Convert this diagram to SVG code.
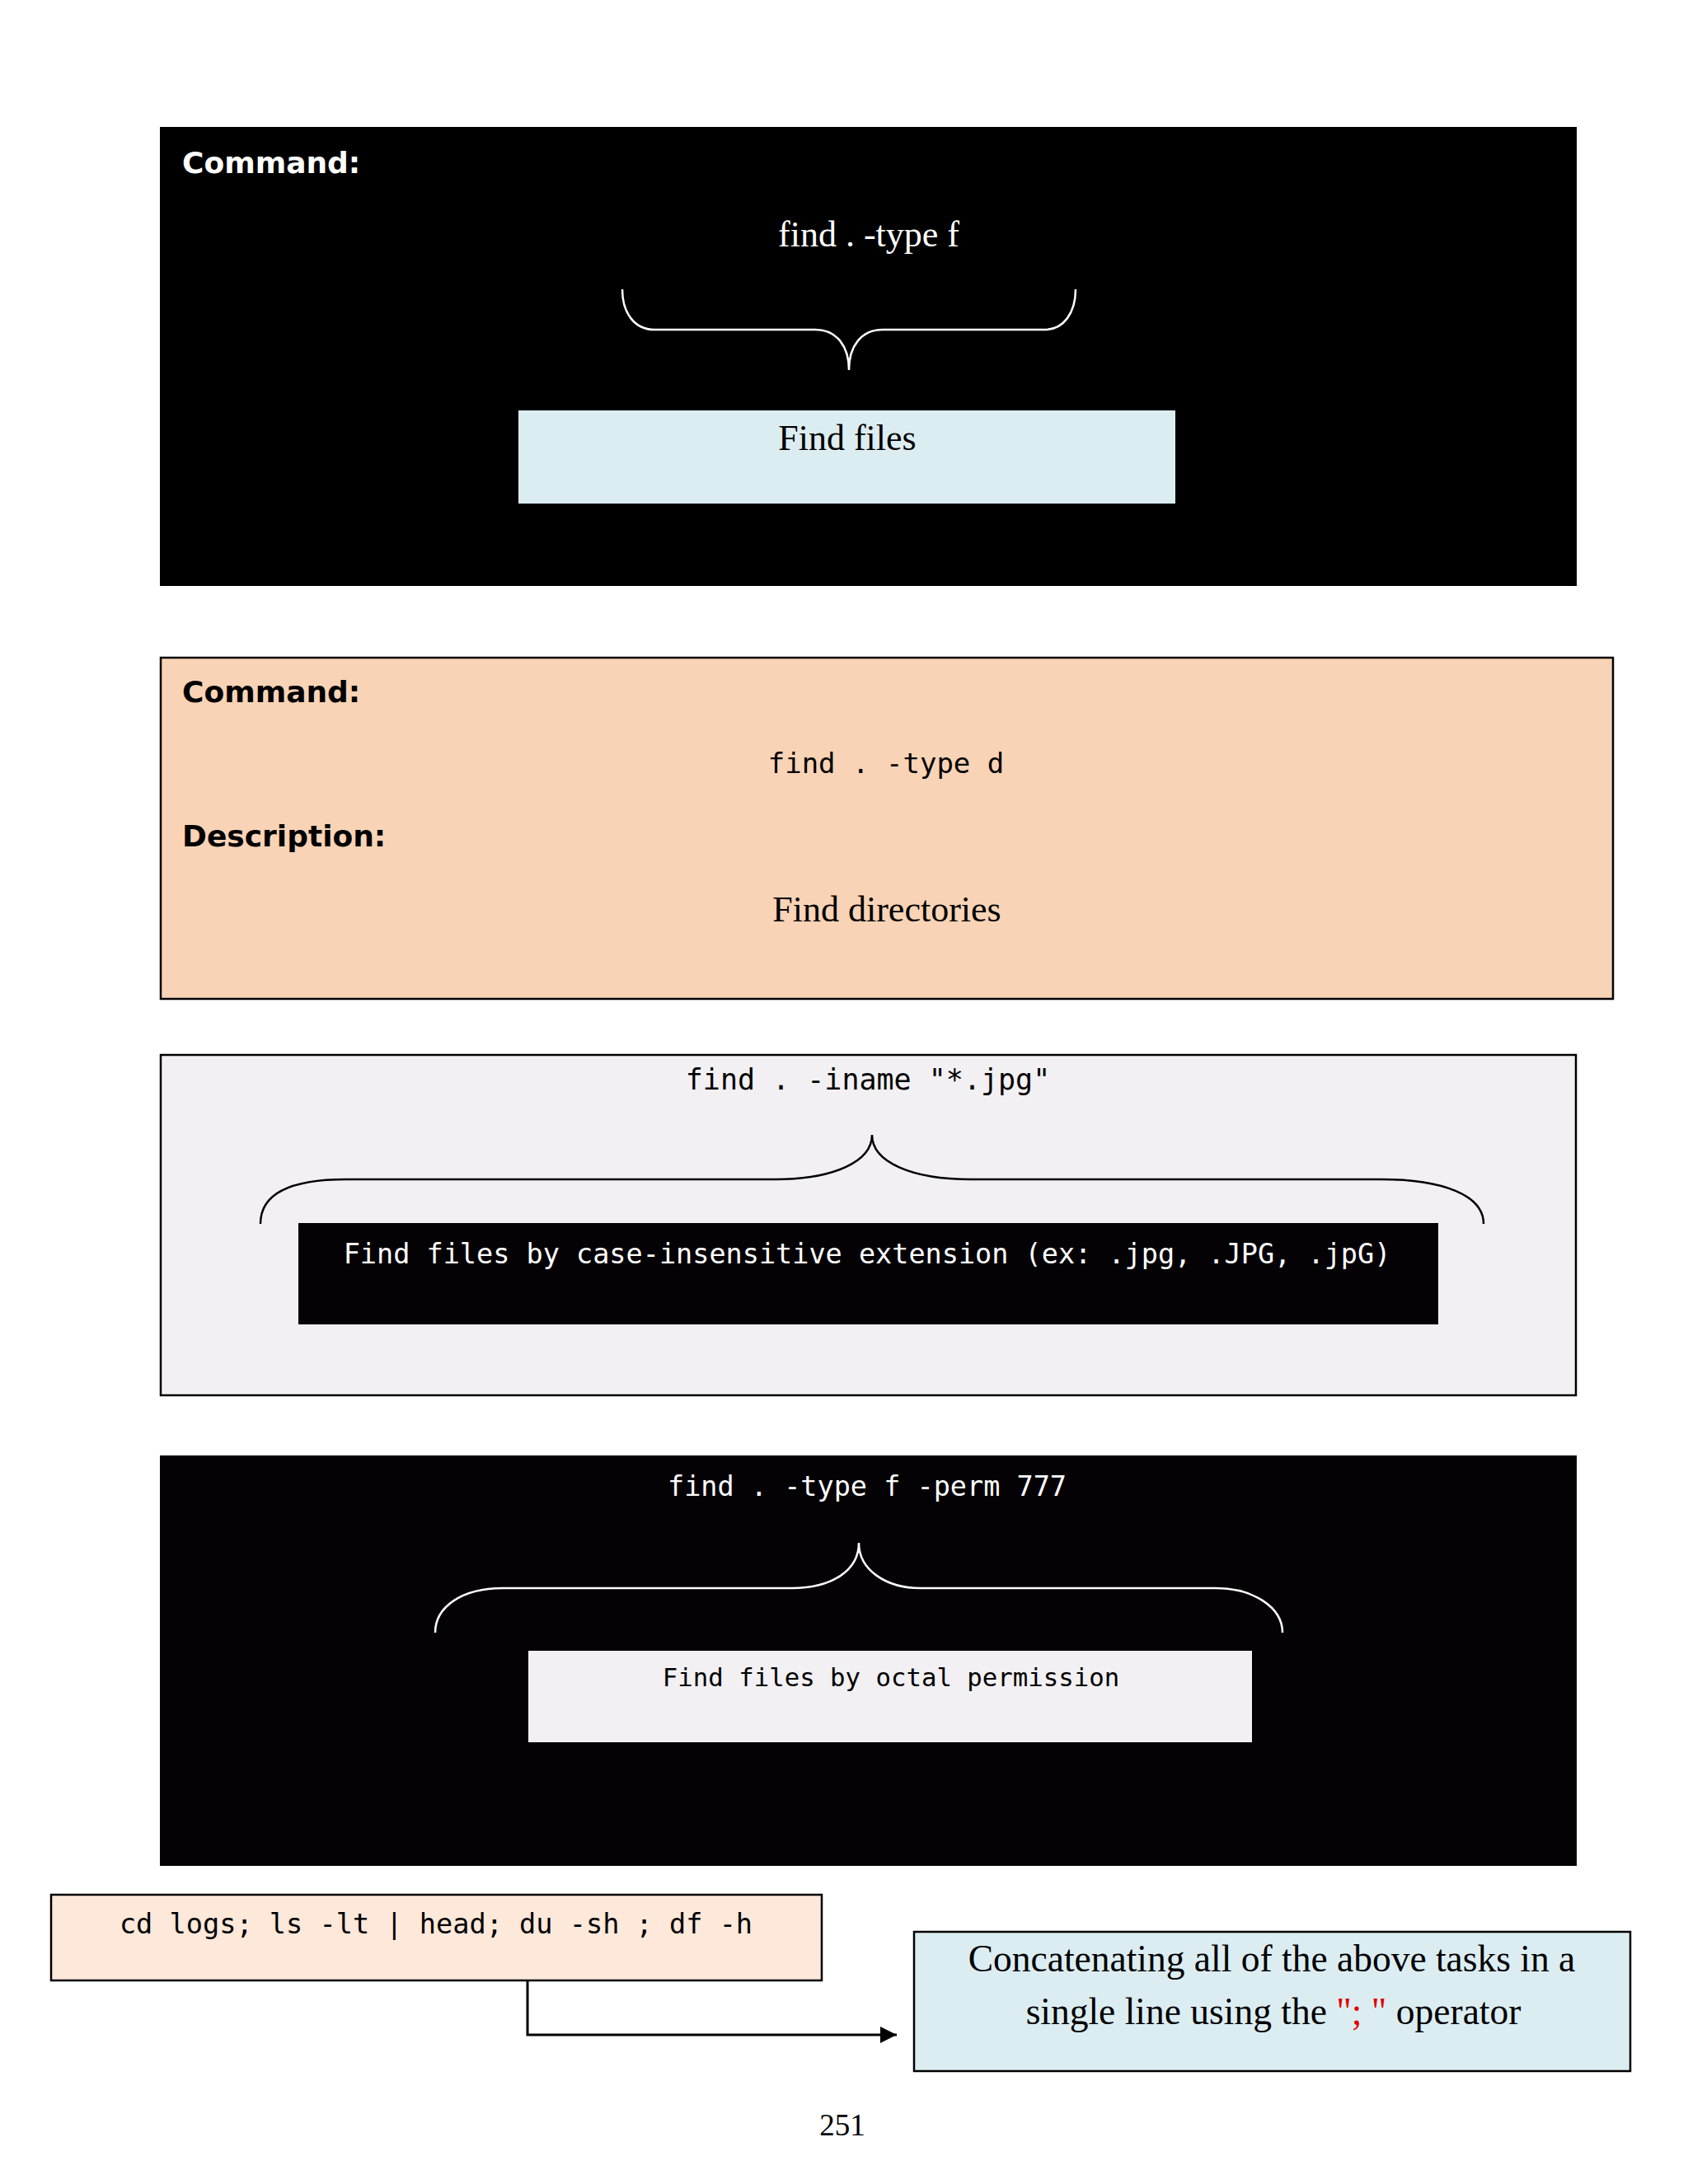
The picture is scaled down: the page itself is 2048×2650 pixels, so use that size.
<svg xmlns="http://www.w3.org/2000/svg" width="2048" height="2650" viewBox="0 0 2048 2650">
  <style>
    .hdr { font-family: "DejaVu Sans", "Liberation Sans", sans-serif; font-weight: bold; font-size: 36px; }
    .serif { font-family: "Liberation Serif", "Times New Roman", serif; font-size: 44px; }
    .big { font-size: 45.5px; }
    .mono { font-family: "DejaVu Sans Mono", "Liberation Mono", monospace; }
    .brace { fill: none; stroke-width: 2.5; }
  </style>
  <defs>
    <marker id="arrow" markerWidth="20" markerHeight="20" refX="20" refY="10" orient="auto" markerUnits="userSpaceOnUse">
      <path d="M0,0 L20,10 L0,20 Z" fill="#000"/>
    </marker>
  </defs>
  <rect x="0" y="0" width="2048" height="2650" fill="#ffffff"/>

  <g id="panel1">
    <rect x="194" y="154" width="1719" height="557" fill="#000000"/>
    <text class="hdr" x="221" y="210" fill="#ffffff">Command:</text>
    <text class="serif" x="1054" y="299" fill="#ffffff" text-anchor="middle">find . -type f</text>
    <path class="brace" stroke="#ffffff" d="M755,351 C755,380 770,400 794,400 L989,400 C1015,400 1030,420 1030,449 C1030,420 1045,400 1071,400 L1268,400 C1290,400 1305,380 1305,351"/>
    <g id="find-files">
      <rect x="629" y="498" width="797" height="113" fill="#dcedf2"/>
      <text class="serif" x="1028" y="546" fill="#000000" text-anchor="middle">Find files</text>
    </g>
  </g>

  <g id="panel2">
    <rect x="195" y="798" width="1762" height="414" fill="#f9d3b5" stroke="#000000" stroke-width="2.5"/>
    <text class="hdr" x="221" y="852" fill="#000000">Command:</text>
    <text class="mono" x="1075" y="938" font-size="34" fill="#000000" text-anchor="middle">find . -type d</text>
    <text class="hdr" x="221" y="1027" fill="#000000">Description:</text>
    <text class="serif" x="1076" y="1118" fill="#000000" text-anchor="middle">Find directories</text>
  </g>

  <g id="panel3">
    <rect x="195" y="1280" width="1717" height="413" fill="#f2f0f3" stroke="#000000" stroke-width="2.5"/>
    <text class="mono" x="1053" y="1322" font-size="35" fill="#000000" text-anchor="middle">find . -iname "*.jpg"</text>
    <path class="brace" stroke="#000000" stroke-width="3" d="M316,1485 C316,1450 350,1431 420,1431 L941,1431 C1010,1431 1058,1410 1058,1377 C1058,1410 1106,1431 1178,1431 L1676,1431 C1750,1431 1800,1450 1800,1485"/>
    <g id="case-insensitive">
      <rect x="362" y="1484" width="1383" height="123" fill="#040205"/>
      <text class="mono" x="1052" y="1533" font-size="33.5" fill="#ffffff" text-anchor="middle">Find files by case-insensitive extension (ex: .jpg, .JPG, .jpG)</text>
    </g>
  </g>

  <g id="panel4">
    <rect x="194" y="1766" width="1719" height="498" fill="#040205"/>
    <text class="mono" x="1052" y="1815" font-size="33.5" fill="#ffffff" text-anchor="middle">find . -type f -perm 777</text>
    <path class="brace" stroke="#ffffff" d="M528,1981 C528,1950 560,1927 610,1927 L961,1927 C1010,1927 1042,1905 1042,1872 C1042,1905 1075,1927 1117,1927 L1475,1927 C1520,1927 1556,1950 1556,1981"/>
    <g id="octal">
      <rect x="641" y="2003" width="878" height="111" fill="#f2f0f3"/>
      <text class="mono" x="1081" y="2046" font-size="30.7" fill="#000000" text-anchor="middle">Find files by octal permission</text>
    </g>
  </g>

  <g id="combined-cmd">
    <rect x="62" y="2299" width="935" height="104" fill="#fde8da" stroke="#000000" stroke-width="2.5"/>
    <text class="mono" x="529" y="2346" font-size="33.6" fill="#000000" text-anchor="middle">cd logs; ls -lt | head; du -sh ; df -h</text>
  </g>

  <g id="combined-desc">
    <rect x="1109" y="2344" width="869" height="169" fill="#dcedf2" stroke="#000000" stroke-width="2.5"/>
    <text class="serif big" x="1543" y="2392" fill="#000000" text-anchor="middle">Concatenating all of the above tasks in a</text>
    <text class="serif big" x="1545" y="2456" fill="#000000" text-anchor="middle">single line using the <tspan fill="#e00000">"; "</tspan> operator</text>
  </g>

  <g id="connectors">
    <path d="M640,2404 L640,2469 L1088,2469" fill="none" stroke="#000000" stroke-width="3" marker-end="url(#arrow)"/>
  </g>

  <text x="1022" y="2591" font-family="Liberation Serif, Times New Roman, serif" font-size="37" fill="#000000" text-anchor="middle">251</text>
</svg>
